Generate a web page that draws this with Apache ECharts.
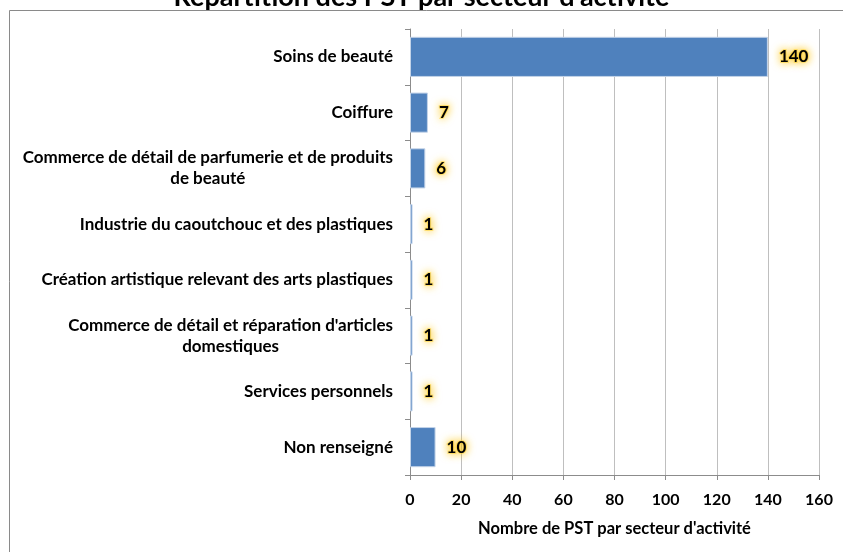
<!DOCTYPE html>
<html>
<head>
<meta charset="utf-8">
<script src="https://cdn.jsdelivr.net/npm/echarts@6/dist/echarts.min.js"></script>
<style>
  html, body { margin: 0; padding: 0; background: #fff; }
  #chart { width: 843px; height: 552px; }
</style>
</head>
<body>
<div id="chart"></div>
<script>
// secteurs d'activité (du haut vers le bas)
const categories = [
  "Soins de beauté",
  "Coiffure",
  "Commerce de détail de parfumerie et de produits\nde beauté",
  "Industrie du caoutchouc et des plastiques",
  "Création artistique relevant des arts plastiques",
  "Commerce de détail et réparation d'articles\ndomestiques",
  "Services personnels",
  "Non renseigné"
];
const values = [140, 7, 6, 1, 1, 1, 1, 10];
const xTicks = { min: 0, max: 160, interval: 20 };

const font = "Lato";
const chart = echarts.init(document.getElementById("chart"));

const option = {
  animation: false,
  textStyle: { fontFamily: font },
  title: {
    text: "Répartition des PST par secteur d'activité",
    left: "center",
    top: -21,
    textStyle: { fontSize: 27, fontWeight: "bold", color: "#000", fontFamily: font }
  },
  graphic: [{
    type: "rect",
    shape: { x: 9.5, y: 10.5, width: 900, height: 600 },
    style: { fill: "#fff", stroke: "#8a8a8a", lineWidth: 1 },
    silent: true,
    z: -10
  }],
  grid: { left: 410, right: 24, top: 29, bottom: 77 },
  xAxis: {
    type: "value",
    min: xTicks.min,
    max: xTicks.max,
    interval: xTicks.interval,
    name: "Nombre de PST par secteur d'activité",
    nameLocation: "middle",
    nameGap: 45,
    nameTextStyle: { fontSize: 16.5, fontWeight: "bold", color: "#000" },
    axisLine: { show: true, lineStyle: { color: "#8c8c8c" } },
    axisTick: { show: true, length: 5, lineStyle: { color: "#8c8c8c" } },
    axisLabel: { fontSize: 16, fontWeight: "bold", color: "#000", margin: 17 },
    splitLine: { show: true, lineStyle: { color: "#bfbfbf" } }
  },
  yAxis: {
    type: "category",
    data: categories,
    inverse: true,
    axisLine: { show: true, lineStyle: { color: "#8c8c8c" } },
    axisTick: { show: true, length: 5, lineStyle: { color: "#8c8c8c" } },
    axisLabel: {
      margin: 17,
      formatter: function (v) { return "{c|" + v + "}"; },
      rich: {
        c: { align: "center", fontSize: 17, fontWeight: "bold", color: "#000", lineHeight: 21, fontFamily: font }
      }
    }
  },
  series: [{
    type: "bar",
    data: values,
    barCategoryGap: "28%",
    itemStyle: { color: "#4f81bd", borderColor: "#c3d3e8", borderWidth: 1 },
    label: {
      show: true,
      position: "right",
      distance: 11,
      fontSize: 17,
      fontWeight: "bold",
      color: "#000",
      fontFamily: font,
      textBorderColor: "rgba(255,214,60,0.55)",
      textBorderWidth: 2,
      textShadowColor: "#ffc400",
      textShadowBlur: 9
    }
  }]
};

chart.setOption(option);
window.addEventListener("resize", () => chart.resize());
</script>
</body>
</html>
